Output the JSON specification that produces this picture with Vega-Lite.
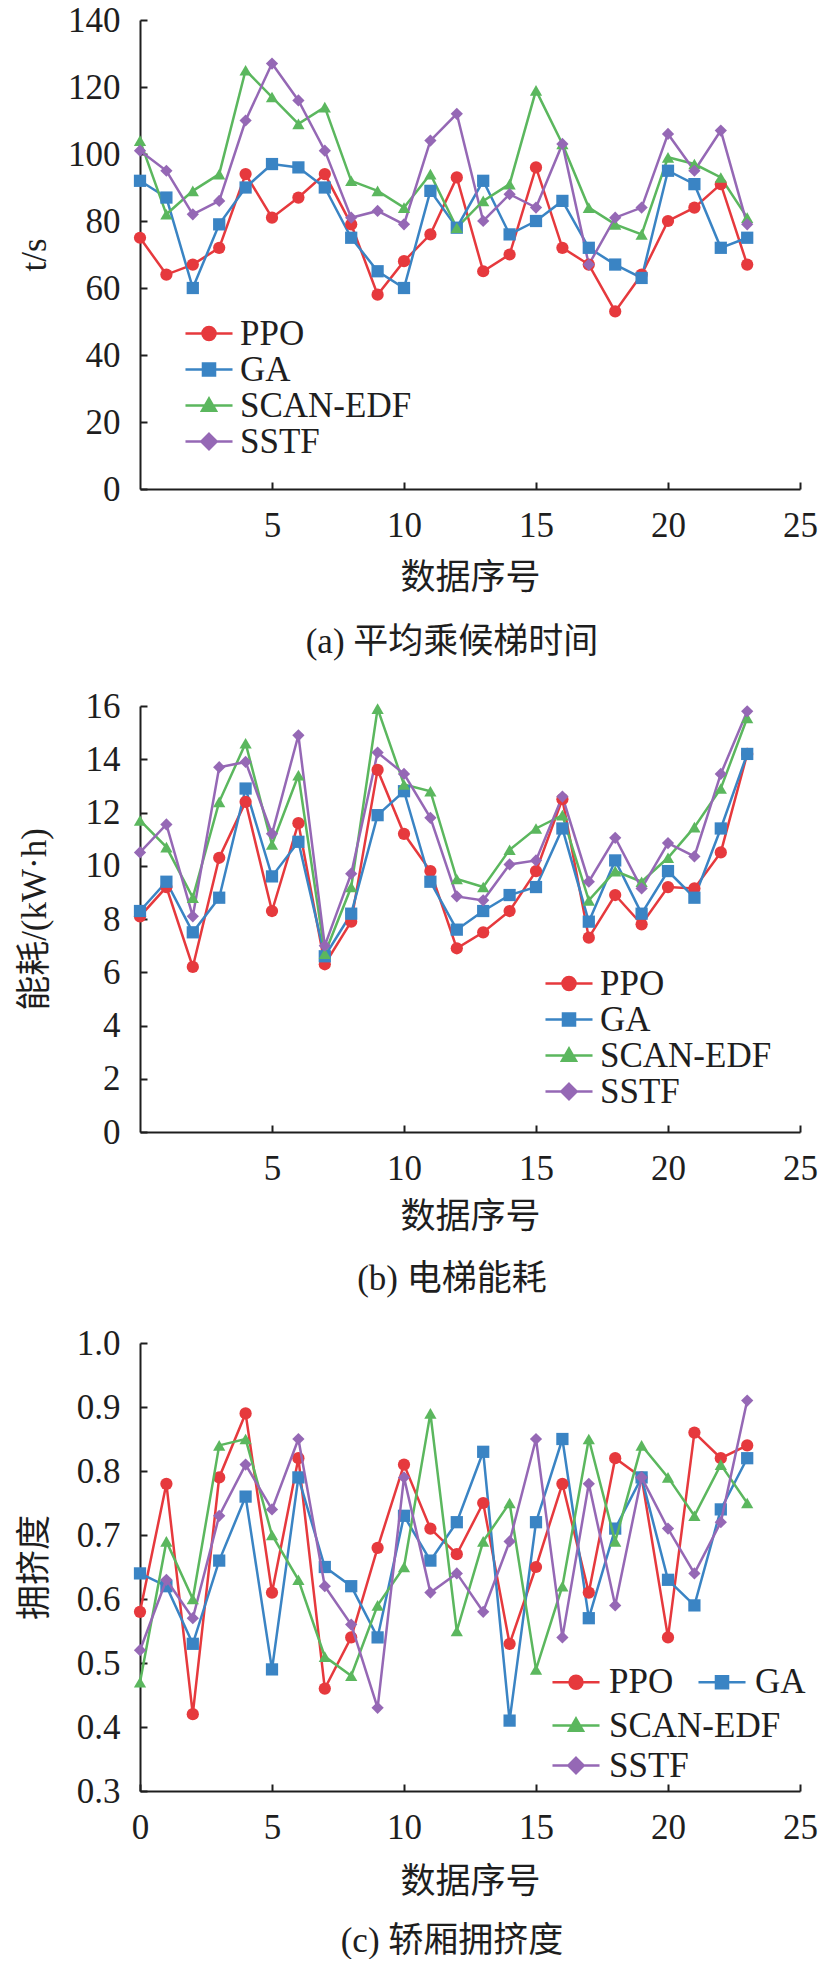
{
  "$schema": "https://vega.github.io/schema/vega-lite/v6.json",
  "padding": {"left": 17, "top": 3, "right": 0, "bottom": 0},
  "spacing": 29,
  "resolve": {"scale": {"fill": "independent", "stroke": "independent", "shape": "independent"}},
  "config": {
    "font": "Liberation Serif, Noto Sans CJK SC",
    "view": {"stroke": null},
    "axis": {
      "labelFont": "Liberation Serif", "labelFontSize": 35, "labelColor": "#1e1e1e",
      "titleFont": "Liberation Serif, Noto Sans CJK SC", "titleFontSize": 35, "titleFontWeight": "normal", "titleColor": "#1e1e1e",
      "domainColor": "#1e1e1e", "domainWidth": 2, "tickColor": "#1e1e1e", "tickWidth": 2, "tickSize": -7,
      "grid": false, "labelFlush": false, "labelOverlap": false
    },
    "axisX": {"labelPadding": 26, "titleBaseline": "middle", "titleY": 88},
    "axisY": {"labelPadding": 27, "titleBaseline": "middle", "titleX": -106},
    "legend": {
      "labelFont": "Liberation Serif", "labelFontSize": 35, "labelColor": "#1e1e1e", "labelLimit": 400,
      "symbolSize": 196, "symbolStrokeWidth": 2.5, "symbolOpacity": 1, "padding": 0, "rowPadding": -1, "labelOffset": 13.5, "title": null
    },
    "title": {"font": "Liberation Serif, Noto Sans CJK SC", "fontSize": 35, "fontWeight": "normal", "color": "#1e1e1e", "orient": "bottom", "frame": "group", "anchor": "middle", "dx": -18, "offset": 30},
    "line": {"strokeWidth": 2.5},
    "point": {"filled": true, "size": 150, "opacity": 1}
  },
  "datasets": {
    "a": [
      {"x":0,"s":"PPO","v":75},{"x":1,"s":"PPO","v":64},{"x":2,"s":"PPO","v":67},{"x":3,"s":"PPO","v":72},{"x":4,"s":"PPO","v":94},{"x":5,"s":"PPO","v":81},{"x":6,"s":"PPO","v":87},{"x":7,"s":"PPO","v":94},{"x":8,"s":"PPO","v":79},{"x":9,"s":"PPO","v":58},{"x":10,"s":"PPO","v":68},{"x":11,"s":"PPO","v":76},{"x":12,"s":"PPO","v":93},{"x":13,"s":"PPO","v":65},{"x":14,"s":"PPO","v":70},{"x":15,"s":"PPO","v":96},{"x":16,"s":"PPO","v":72},{"x":17,"s":"PPO","v":67},{"x":18,"s":"PPO","v":53},{"x":19,"s":"PPO","v":64},{"x":20,"s":"PPO","v":80},{"x":21,"s":"PPO","v":84},{"x":22,"s":"PPO","v":91},{"x":23,"s":"PPO","v":67},
      {"x":0,"s":"GA","v":92},{"x":1,"s":"GA","v":87},{"x":2,"s":"GA","v":60},{"x":3,"s":"GA","v":79},{"x":4,"s":"GA","v":90},{"x":5,"s":"GA","v":97},{"x":6,"s":"GA","v":96},{"x":7,"s":"GA","v":90},{"x":8,"s":"GA","v":75},{"x":9,"s":"GA","v":65},{"x":10,"s":"GA","v":60},{"x":11,"s":"GA","v":89},{"x":12,"s":"GA","v":78},{"x":13,"s":"GA","v":92},{"x":14,"s":"GA","v":76},{"x":15,"s":"GA","v":80},{"x":16,"s":"GA","v":86},{"x":17,"s":"GA","v":72},{"x":18,"s":"GA","v":67},{"x":19,"s":"GA","v":63},{"x":20,"s":"GA","v":95},{"x":21,"s":"GA","v":91},{"x":22,"s":"GA","v":72},{"x":23,"s":"GA","v":75},
      {"x":0,"s":"SCAN-EDF","v":104},{"x":1,"s":"SCAN-EDF","v":82},{"x":2,"s":"SCAN-EDF","v":89},{"x":3,"s":"SCAN-EDF","v":94},{"x":4,"s":"SCAN-EDF","v":125},{"x":5,"s":"SCAN-EDF","v":117},{"x":6,"s":"SCAN-EDF","v":109},{"x":7,"s":"SCAN-EDF","v":114},{"x":8,"s":"SCAN-EDF","v":92},{"x":9,"s":"SCAN-EDF","v":89},{"x":10,"s":"SCAN-EDF","v":84},{"x":11,"s":"SCAN-EDF","v":94},{"x":12,"s":"SCAN-EDF","v":78},{"x":13,"s":"SCAN-EDF","v":86},{"x":14,"s":"SCAN-EDF","v":91},{"x":15,"s":"SCAN-EDF","v":119},{"x":16,"s":"SCAN-EDF","v":103},{"x":17,"s":"SCAN-EDF","v":84},{"x":18,"s":"SCAN-EDF","v":79},{"x":19,"s":"SCAN-EDF","v":76},{"x":20,"s":"SCAN-EDF","v":99},{"x":21,"s":"SCAN-EDF","v":97},{"x":22,"s":"SCAN-EDF","v":93},{"x":23,"s":"SCAN-EDF","v":81},
      {"x":0,"s":"SSTF","v":101},{"x":1,"s":"SSTF","v":95},{"x":2,"s":"SSTF","v":82},{"x":3,"s":"SSTF","v":86},{"x":4,"s":"SSTF","v":110},{"x":5,"s":"SSTF","v":127},{"x":6,"s":"SSTF","v":116},{"x":7,"s":"SSTF","v":101},{"x":8,"s":"SSTF","v":81},{"x":9,"s":"SSTF","v":83},{"x":10,"s":"SSTF","v":79},{"x":11,"s":"SSTF","v":104},{"x":12,"s":"SSTF","v":112},{"x":13,"s":"SSTF","v":80},{"x":14,"s":"SSTF","v":88},{"x":15,"s":"SSTF","v":84},{"x":16,"s":"SSTF","v":103},{"x":17,"s":"SSTF","v":67},{"x":18,"s":"SSTF","v":81},{"x":19,"s":"SSTF","v":84},{"x":20,"s":"SSTF","v":106},{"x":21,"s":"SSTF","v":95},{"x":22,"s":"SSTF","v":107},{"x":23,"s":"SSTF","v":79}
    ],
    "b": [
      {"x":0,"s":"PPO","v":8.1},{"x":1,"s":"PPO","v":9.2},{"x":2,"s":"PPO","v":6.2},{"x":3,"s":"PPO","v":10.3},{"x":4,"s":"PPO","v":12.4},{"x":5,"s":"PPO","v":8.3},{"x":6,"s":"PPO","v":11.6},{"x":7,"s":"PPO","v":6.3},{"x":8,"s":"PPO","v":7.9},{"x":9,"s":"PPO","v":13.6},{"x":10,"s":"PPO","v":11.2},{"x":11,"s":"PPO","v":9.8},{"x":12,"s":"PPO","v":6.9},{"x":13,"s":"PPO","v":7.5},{"x":14,"s":"PPO","v":8.3},{"x":15,"s":"PPO","v":9.8},{"x":16,"s":"PPO","v":12.5},{"x":17,"s":"PPO","v":7.3},{"x":18,"s":"PPO","v":8.9},{"x":19,"s":"PPO","v":7.8},{"x":20,"s":"PPO","v":9.2},{"x":21,"s":"PPO","v":9.15},{"x":22,"s":"PPO","v":10.5},{"x":23,"s":"PPO","v":14.2},
      {"x":0,"s":"GA","v":8.3},{"x":1,"s":"GA","v":9.4},{"x":2,"s":"GA","v":7.5},{"x":3,"s":"GA","v":8.8},{"x":4,"s":"GA","v":12.9},{"x":5,"s":"GA","v":9.6},{"x":6,"s":"GA","v":10.9},{"x":7,"s":"GA","v":6.6},{"x":8,"s":"GA","v":8.2},{"x":9,"s":"GA","v":11.9},{"x":10,"s":"GA","v":12.8},{"x":11,"s":"GA","v":9.4},{"x":12,"s":"GA","v":7.6},{"x":13,"s":"GA","v":8.3},{"x":14,"s":"GA","v":8.9},{"x":15,"s":"GA","v":9.2},{"x":16,"s":"GA","v":11.4},{"x":17,"s":"GA","v":7.9},{"x":18,"s":"GA","v":10.2},{"x":19,"s":"GA","v":8.2},{"x":20,"s":"GA","v":9.8},{"x":21,"s":"GA","v":8.8},{"x":22,"s":"GA","v":11.4},{"x":23,"s":"GA","v":14.2},
      {"x":0,"s":"SCAN-EDF","v":11.7},{"x":1,"s":"SCAN-EDF","v":10.7},{"x":2,"s":"SCAN-EDF","v":8.8},{"x":3,"s":"SCAN-EDF","v":12.4},{"x":4,"s":"SCAN-EDF","v":14.6},{"x":5,"s":"SCAN-EDF","v":10.8},{"x":6,"s":"SCAN-EDF","v":13.4},{"x":7,"s":"SCAN-EDF","v":6.7},{"x":8,"s":"SCAN-EDF","v":9.2},{"x":9,"s":"SCAN-EDF","v":15.9},{"x":10,"s":"SCAN-EDF","v":13.05},{"x":11,"s":"SCAN-EDF","v":12.8},{"x":12,"s":"SCAN-EDF","v":9.5},{"x":13,"s":"SCAN-EDF","v":9.2},{"x":14,"s":"SCAN-EDF","v":10.6},{"x":15,"s":"SCAN-EDF","v":11.4},{"x":16,"s":"SCAN-EDF","v":11.9},{"x":17,"s":"SCAN-EDF","v":8.7},{"x":18,"s":"SCAN-EDF","v":9.8},{"x":19,"s":"SCAN-EDF","v":9.4},{"x":20,"s":"SCAN-EDF","v":10.3},{"x":21,"s":"SCAN-EDF","v":11.45},{"x":22,"s":"SCAN-EDF","v":12.9},{"x":23,"s":"SCAN-EDF","v":15.55},
      {"x":0,"s":"SSTF","v":10.5},{"x":1,"s":"SSTF","v":11.55},{"x":2,"s":"SSTF","v":8.1},{"x":3,"s":"SSTF","v":13.7},{"x":4,"s":"SSTF","v":13.9},{"x":5,"s":"SSTF","v":11.2},{"x":6,"s":"SSTF","v":14.9},{"x":7,"s":"SSTF","v":7.0},{"x":8,"s":"SSTF","v":9.7},{"x":9,"s":"SSTF","v":14.25},{"x":10,"s":"SSTF","v":13.45},{"x":11,"s":"SSTF","v":11.8},{"x":12,"s":"SSTF","v":8.85},{"x":13,"s":"SSTF","v":8.7},{"x":14,"s":"SSTF","v":10.05},{"x":15,"s":"SSTF","v":10.2},{"x":16,"s":"SSTF","v":12.6},{"x":17,"s":"SSTF","v":9.4},{"x":18,"s":"SSTF","v":11.05},{"x":19,"s":"SSTF","v":9.15},{"x":20,"s":"SSTF","v":10.85},{"x":21,"s":"SSTF","v":10.35},{"x":22,"s":"SSTF","v":13.45},{"x":23,"s":"SSTF","v":15.8}
    ],
    "c": [
      {"x":0,"s":"PPO","v":0.58},{"x":1,"s":"PPO","v":0.78},{"x":2,"s":"PPO","v":0.42},{"x":3,"s":"PPO","v":0.79},{"x":4,"s":"PPO","v":0.89},{"x":5,"s":"PPO","v":0.61},{"x":6,"s":"PPO","v":0.82},{"x":7,"s":"PPO","v":0.46},{"x":8,"s":"PPO","v":0.54},{"x":9,"s":"PPO","v":0.68},{"x":10,"s":"PPO","v":0.81},{"x":11,"s":"PPO","v":0.71},{"x":12,"s":"PPO","v":0.67},{"x":13,"s":"PPO","v":0.75},{"x":14,"s":"PPO","v":0.53},{"x":15,"s":"PPO","v":0.65},{"x":16,"s":"PPO","v":0.78},{"x":17,"s":"PPO","v":0.61},{"x":18,"s":"PPO","v":0.82},{"x":19,"s":"PPO","v":0.79},{"x":20,"s":"PPO","v":0.54},{"x":21,"s":"PPO","v":0.86},{"x":22,"s":"PPO","v":0.82},{"x":23,"s":"PPO","v":0.84},
      {"x":0,"s":"GA","v":0.64},{"x":1,"s":"GA","v":0.62},{"x":2,"s":"GA","v":0.53},{"x":3,"s":"GA","v":0.66},{"x":4,"s":"GA","v":0.76},{"x":5,"s":"GA","v":0.49},{"x":6,"s":"GA","v":0.79},{"x":7,"s":"GA","v":0.65},{"x":8,"s":"GA","v":0.62},{"x":9,"s":"GA","v":0.54},{"x":10,"s":"GA","v":0.73},{"x":11,"s":"GA","v":0.66},{"x":12,"s":"GA","v":0.72},{"x":13,"s":"GA","v":0.83},{"x":14,"s":"GA","v":0.41},{"x":15,"s":"GA","v":0.72},{"x":16,"s":"GA","v":0.85},{"x":17,"s":"GA","v":0.57},{"x":18,"s":"GA","v":0.71},{"x":19,"s":"GA","v":0.79},{"x":20,"s":"GA","v":0.63},{"x":21,"s":"GA","v":0.59},{"x":22,"s":"GA","v":0.74},{"x":23,"s":"GA","v":0.82},
      {"x":0,"s":"SCAN-EDF","v":0.47},{"x":1,"s":"SCAN-EDF","v":0.69},{"x":2,"s":"SCAN-EDF","v":0.6},{"x":3,"s":"SCAN-EDF","v":0.84},{"x":4,"s":"SCAN-EDF","v":0.85},{"x":5,"s":"SCAN-EDF","v":0.7},{"x":6,"s":"SCAN-EDF","v":0.63},{"x":7,"s":"SCAN-EDF","v":0.51},{"x":8,"s":"SCAN-EDF","v":0.48},{"x":9,"s":"SCAN-EDF","v":0.59},{"x":10,"s":"SCAN-EDF","v":0.65},{"x":11,"s":"SCAN-EDF","v":0.89},{"x":12,"s":"SCAN-EDF","v":0.55},{"x":13,"s":"SCAN-EDF","v":0.69},{"x":14,"s":"SCAN-EDF","v":0.75},{"x":15,"s":"SCAN-EDF","v":0.49},{"x":16,"s":"SCAN-EDF","v":0.62},{"x":17,"s":"SCAN-EDF","v":0.85},{"x":18,"s":"SCAN-EDF","v":0.69},{"x":19,"s":"SCAN-EDF","v":0.84},{"x":20,"s":"SCAN-EDF","v":0.79},{"x":21,"s":"SCAN-EDF","v":0.73},{"x":22,"s":"SCAN-EDF","v":0.81},{"x":23,"s":"SCAN-EDF","v":0.75},
      {"x":0,"s":"SSTF","v":0.52},{"x":1,"s":"SSTF","v":0.63},{"x":2,"s":"SSTF","v":0.57},{"x":3,"s":"SSTF","v":0.73},{"x":4,"s":"SSTF","v":0.81},{"x":5,"s":"SSTF","v":0.74},{"x":6,"s":"SSTF","v":0.85},{"x":7,"s":"SSTF","v":0.62},{"x":8,"s":"SSTF","v":0.56},{"x":9,"s":"SSTF","v":0.43},{"x":10,"s":"SSTF","v":0.79},{"x":11,"s":"SSTF","v":0.61},{"x":12,"s":"SSTF","v":0.64},{"x":13,"s":"SSTF","v":0.58},{"x":14,"s":"SSTF","v":0.69},{"x":15,"s":"SSTF","v":0.85},{"x":16,"s":"SSTF","v":0.54},{"x":17,"s":"SSTF","v":0.78},{"x":18,"s":"SSTF","v":0.59},{"x":19,"s":"SSTF","v":0.79},{"x":20,"s":"SSTF","v":0.71},{"x":21,"s":"SSTF","v":0.64},{"x":22,"s":"SSTF","v":0.72},{"x":23,"s":"SSTF","v":0.91}
    ]
  },
  "vconcat": [
    {
      "width": 660, "height": 469,
      "data": {"name": "a"},
      "title": {"text": "(a) 平均乘候梯时间", "offset": 30},
      "encoding": {
        "x": {"field": "x", "type": "quantitative", "scale": {"domain": [0, 25], "nice": false}, "axis": {"values": [5, 10, 15, 20, 25], "title": "数据序号"}},
        "y": {"field": "v", "type": "quantitative", "scale": {"domain": [0, 140], "nice": false}, "axis": {"values": [0, 20, 40, 60, 80, 100, 120, 140], "title": "t/s"}}
      },
      "layer": [
        {"mark": {"type": "line"}, "encoding": {"stroke": {"field": "s", "type": "nominal", "scale": {"domain": ["PPO", "GA", "SCAN-EDF", "SSTF"], "range": ["#e6393d", "#3a84c4", "#5bb75e", "#9568b5"]}, "legend": {"orient": "none", "legendX": 51.5, "legendY": 296}}}},
        {"transform": [{"filter": {"field": "s", "equal": "PPO"}}], "mark": {"type": "point", "shape": "circle"}, "encoding": {"fill": {"field": "s", "type": "nominal", "scale": {"domain": ["PPO", "GA", "SCAN-EDF", "SSTF"], "range": ["#e6393d", "#3a84c4", "#5bb75e", "#9568b5"]}, "legend": {"orient": "none", "legendX": 51.5, "legendY": 296}}}},
        {"transform": [{"filter": {"field": "s", "equal": "GA"}}], "mark": {"type": "point", "shape": "square"}, "encoding": {"fill": {"field": "s", "type": "nominal"}}},
        {"transform": [{"filter": {"field": "s", "equal": "SCAN-EDF"}}], "mark": {"type": "point", "shape": "triangle-up"}, "encoding": {"fill": {"field": "s", "type": "nominal"}}},
        {"transform": [{"filter": {"field": "s", "equal": "SSTF"}}], "mark": {"type": "point", "shape": "diamond"}, "encoding": {"fill": {"field": "s", "type": "nominal"}}},
        {"transform": [{"filter": {"field": "x", "lt": -1}}], "mark": {"type": "point"}, "encoding": {
          "fill": {"field": "s", "type": "nominal"},
          "stroke": {"field": "s", "type": "nominal"},
          "shape": {"field": "s", "type": "nominal", "scale": {"domain": ["PPO", "GA", "SCAN-EDF", "SSTF"], "range": ["M-3.36,0H3.36M-0.93,0A0.93,0.93,0,1,0,0.93,0A0.93,0.93,0,1,0,-0.93,0Z", "M-3.36,0H3.36M-0.86,-0.86H0.86V0.86H-0.86Z", "M-3.36,0H3.36M0,-1L1,0.75H-1Z", "M-3.36,0H3.36M0,-1.1L1.1,0L0,1.1L-1.1,0Z"]}, "legend": {"orient": "none", "legendX": 51.5, "legendY": 296}}
        }}
      ]
    },
    {
      "width": 660, "height": 426,
      "data": {"name": "b"},
      "title": {"text": "(b) 电梯能耗", "offset": 28},
      "encoding": {
        "x": {"field": "x", "type": "quantitative", "scale": {"domain": [0, 25], "nice": false}, "axis": {"values": [5, 10, 15, 20, 25], "title": "数据序号", "titleY": 84}},
        "y": {"field": "v", "type": "quantitative", "scale": {"domain": [0, 16], "nice": false}, "axis": {"values": [0, 2, 4, 6, 8, 10, 12, 14, 16], "title": "能耗/(kW·h)"}}
      },
      "layer": [
        {"mark": {"type": "line"}, "encoding": {"stroke": {"field": "s", "type": "nominal", "scale": {"domain": ["PPO", "GA", "SCAN-EDF", "SSTF"], "range": ["#e6393d", "#3a84c4", "#5bb75e", "#9568b5"]}, "legend": {"orient": "none", "legendX": 411.5, "legendY": 260}}}},
        {"transform": [{"filter": {"field": "s", "equal": "PPO"}}], "mark": {"type": "point", "shape": "circle"}, "encoding": {"fill": {"field": "s", "type": "nominal", "scale": {"domain": ["PPO", "GA", "SCAN-EDF", "SSTF"], "range": ["#e6393d", "#3a84c4", "#5bb75e", "#9568b5"]}, "legend": {"orient": "none", "legendX": 411.5, "legendY": 260}}}},
        {"transform": [{"filter": {"field": "s", "equal": "GA"}}], "mark": {"type": "point", "shape": "square"}, "encoding": {"fill": {"field": "s", "type": "nominal"}}},
        {"transform": [{"filter": {"field": "s", "equal": "SCAN-EDF"}}], "mark": {"type": "point", "shape": "triangle-up"}, "encoding": {"fill": {"field": "s", "type": "nominal"}}},
        {"transform": [{"filter": {"field": "s", "equal": "SSTF"}}], "mark": {"type": "point", "shape": "diamond"}, "encoding": {"fill": {"field": "s", "type": "nominal"}}},
        {"transform": [{"filter": {"field": "x", "lt": -1}}], "mark": {"type": "point"}, "encoding": {
          "fill": {"field": "s", "type": "nominal"},
          "stroke": {"field": "s", "type": "nominal"},
          "shape": {"field": "s", "type": "nominal", "scale": {"domain": ["PPO", "GA", "SCAN-EDF", "SSTF"], "range": ["M-3.36,0H3.36M-0.93,0A0.93,0.93,0,1,0,0.93,0A0.93,0.93,0,1,0,-0.93,0Z", "M-3.36,0H3.36M-0.86,-0.86H0.86V0.86H-0.86Z", "M-3.36,0H3.36M0,-1L1,0.75H-1Z", "M-3.36,0H3.36M0,-1.1L1.1,0L0,1.1L-1.1,0Z"]}, "legend": {"orient": "none", "legendX": 411.5, "legendY": 260}}
        }}
      ]
    },
    {
      "width": 660, "height": 448,
      "data": {"name": "c"},
      "title": {"text": "(c) 轿厢拥挤度", "offset": 25},
      "encoding": {
        "x": {"field": "x", "type": "quantitative", "scale": {"domain": [0, 25], "nice": false}, "axis": {"values": [0, 5, 10, 15, 20, 25], "title": "数据序号", "titleY": 90}},
        "y": {"field": "v", "type": "quantitative", "scale": {"domain": [0.3, 1.0], "nice": false, "zero": false}, "axis": {"values": [0.3, 0.4, 0.5, 0.6, 0.7, 0.8, 0.9, 1.0], "format": ".1f", "title": "拥挤度"}}
      },
      "layer": [
        {
          "transform": [{"filter": {"field": "s", "oneOf": ["PPO", "GA"]}}],
          "layer": [
            {"mark": {"type": "line"}, "encoding": {"stroke": {"field": "s", "type": "nominal", "scale": {"domain": ["PPO", "GA"], "range": ["#e6393d", "#3a84c4"]}, "legend": {"orient": "none", "legendX": 418.5, "legendY": 321.5, "columns": 2, "columnPadding": 19, "labelOffset": 15.5}}}},
            {"transform": [{"filter": {"field": "s", "equal": "PPO"}}], "mark": {"type": "point", "shape": "circle"}, "encoding": {"fill": {"field": "s", "type": "nominal", "scale": {"domain": ["PPO", "GA"], "range": ["#e6393d", "#3a84c4"]}, "legend": {"orient": "none", "legendX": 418.5, "legendY": 321.5, "columns": 2, "columnPadding": 19, "labelOffset": 15.5}}}},
            {"transform": [{"filter": {"field": "s", "equal": "GA"}}], "mark": {"type": "point", "shape": "square"}, "encoding": {"fill": {"field": "s", "type": "nominal"}}},
            {"transform": [{"filter": {"field": "x", "lt": -1}}], "mark": {"type": "point"}, "encoding": {
              "fill": {"field": "s", "type": "nominal"},
              "stroke": {"field": "s", "type": "nominal"},
              "shape": {"field": "s", "type": "nominal", "scale": {"domain": ["PPO", "GA"], "range": ["M-3.36,0H3.36M-0.93,0A0.93,0.93,0,1,0,0.93,0A0.93,0.93,0,1,0,-0.93,0Z", "M-3.36,0H3.36M-0.86,-0.86H0.86V0.86H-0.86Z"]}, "legend": {"orient": "none", "legendX": 418.5, "legendY": 321.5, "columns": 2, "columnPadding": 19, "labelOffset": 15.5}}
            }}
          ]
        },
        {
          "transform": [{"filter": {"field": "s", "oneOf": ["SCAN-EDF", "SSTF"]}}],
          "layer": [
            {"mark": {"type": "line"}, "encoding": {"stroke": {"field": "s", "type": "nominal", "scale": {"domain": ["SCAN-EDF", "SSTF"], "range": ["#5bb75e", "#9568b5"]}, "legend": {"orient": "none", "legendX": 418.5, "legendY": 365, "rowPadding": 4, "labelOffset": 15.5}}}},
            {"transform": [{"filter": {"field": "s", "equal": "SCAN-EDF"}}], "mark": {"type": "point", "shape": "triangle-up"}, "encoding": {"fill": {"field": "s", "type": "nominal", "scale": {"domain": ["SCAN-EDF", "SSTF"], "range": ["#5bb75e", "#9568b5"]}, "legend": {"orient": "none", "legendX": 418.5, "legendY": 365, "rowPadding": 4, "labelOffset": 15.5}}}},
            {"transform": [{"filter": {"field": "s", "equal": "SSTF"}}], "mark": {"type": "point", "shape": "diamond"}, "encoding": {"fill": {"field": "s", "type": "nominal"}}},
            {"transform": [{"filter": {"field": "x", "lt": -1}}], "mark": {"type": "point"}, "encoding": {
              "fill": {"field": "s", "type": "nominal"},
              "stroke": {"field": "s", "type": "nominal"},
              "shape": {"field": "s", "type": "nominal", "scale": {"domain": ["SCAN-EDF", "SSTF"], "range": ["M-3.36,0H3.36M0,-1L1,0.75H-1Z", "M-3.36,0H3.36M0,-1.1L1.1,0L0,1.1L-1.1,0Z"]}, "legend": {"orient": "none", "legendX": 418.5, "legendY": 365, "rowPadding": 4, "labelOffset": 15.5}}
            }}
          ]
        }
      ],
      "resolve": {"scale": {"fill": "independent", "stroke": "independent", "shape": "independent"}}
    }
  ]
}
